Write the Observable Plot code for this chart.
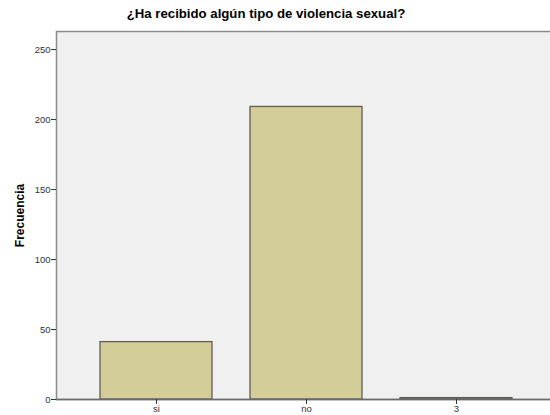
<!DOCTYPE html>
<html>
<head>
<meta charset="utf-8">
<script src="https://cdn.jsdelivr.net/npm/d3@7"></script>
<script src="https://cdn.jsdelivr.net/npm/@observablehq/plot@0.6"></script>
<style>
  html, body { margin: 0; padding: 0; background: #fff; overflow: hidden; }
  #wrap { position: relative; width: 550px; height: 415px; overflow: hidden; font-family: "Liberation Sans", Arial, sans-serif; }
  #title { position: absolute; left: 0; width: 532px; top: 6px; text-align: center; font-size: 13.2px; font-weight: bold; color: #000; }
  #chart { position: absolute; left: 0; top: 0; width: 556px; }
  #chart svg { max-width: none !important; }
  #chart svg [aria-label="y-axis label"] text { font-weight: bold; font-size: 12px; fill: #000; }
</style>
</head>
<body>
<div id="wrap">
  <div id="chart"></div>
  <div id="title">¿Ha recibido algún tipo de violencia sexual?</div>
</div>
<script>
const categories = ["si", "no", "3"];
const frequencies = [41, 209, 1];
const yTicks = [0, 50, 100, 150, 200, 250];

const data = categories.map((c, i) => ({category: c, value: frequencies[i]}));

const chart = Plot.plot({
  width: 556,
  height: 415,
  marginTop: 31,
  marginBottom: 16,
  marginLeft: 56,
  marginRight: 0,
  style: {fontFamily: "Liberation Sans, Arial, sans-serif", fontSize: "9.5px", color: "#333", background: "transparent", maxWidth: "none"},
  x: {domain: categories, paddingInner: 0.2533, paddingOuter: 0.2933, label: null},
  y: {domain: [0, 262.9], label: "Frecuencia", labelAnchor: "center", labelArrow: "none"},
  marks: [
    Plot.frame({fill: "#f0f0f0", stroke: "#8c8c8c", strokeWidth: 1.5}),
    Plot.barY(data, {x: "category", y: "value", fill: "#d3ce97", stroke: "#5e5e55", strokeWidth: 1.3}),
    Plot.ruleY([0], {stroke: "#6a6a6a", strokeWidth: 1.5}),
    Plot.axisY({ticks: yTicks, tickSize: 5, tickPadding: 1, label: "Frecuencia", labelAnchor: "center", labelOffset: 41, labelArrow: "none", stroke: "#333"}),
    Plot.axisX({tickSize: 5, tickPadding: 1, label: null, stroke: "#333"})
  ]
});
document.getElementById("chart").appendChild(chart);
</script>
</body>
</html>
